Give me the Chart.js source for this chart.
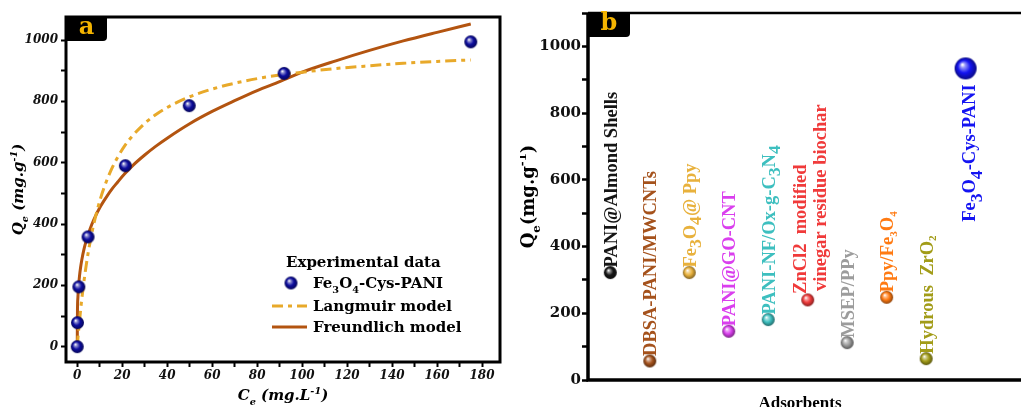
<!DOCTYPE html>
<html>
<head>
<meta charset="utf-8">
<script src="https://cdn.jsdelivr.net/npm/chart.js@4.4.1/dist/chart.umd.min.js"></script>
<style>
  html, body { margin: 0; padding: 0; background: #fff; overflow: hidden; width: 1021px; height: 407px; }
  #isotherm { position: absolute; left: 0; top: 0; }
  #compare { position: absolute; left: 520px; top: 0; }
</style>
</head>
<body>
<canvas id="isotherm" width="510" height="407"></canvas>
<canvas id="compare" width="520" height="420"></canvas>
<script>
// ---- panel a : isotherm data ----
const ceExp = [0, 0.1, 0.7, 4.8, 21.4, 49.8, 92.0, 175.0];
const qeExp = [0, 78, 195, 358, 590, 786, 891, 994];
const ceFit = [0, 0.1, 0.3, 0.6, 1, 1.5, 2, 3, 4, 5, 6.5, 8, 10, 12, 15, 18, 21, 25, 30, 35, 40, 50, 60, 70, 80, 90, 100, 115, 130, 145, 160, 175];
const qeLangmuir = [0, 9, 27, 52, 83, 120, 154, 214, 266, 312, 371, 420, 475, 520, 575, 618, 654, 691, 728, 757, 780, 815, 840, 859, 874, 886, 895, 907, 916, 924, 930, 935];
const qeFreundlich = [0, 117, 161, 198, 230, 259, 282, 318, 346, 369, 399, 424, 453, 477, 510, 537, 563, 593, 625, 654, 680, 727, 767, 802, 835, 864, 895, 932, 966, 997, 1025, 1052];
const ceTicks = [0, 20, 40, 60, 80, 100, 120, 140, 160, 180];
const qeTicksA = [0, 200, 400, 600, 800, 1000];

// ---- panel b : comparison with other adsorbents ----
// "_x" marks a subscript character
const adsorbents = ['PANI@Almond Shells', 'DBSA-PANI/MWCNTs', 'Fe_3O_4@ Ppy', 'PANI@GO-CNT', 'PANI-NF/Ox-g-C_3N_4',
  'ZnCl2  modified\nvinegar residue biochar', 'MSEP/PPy', 'Ppy/Fe_3O_4', 'Hydrous  ZrO_2', 'Fe_3O_4-Cys-PANI'];
const capacities = [322, 57, 322, 146, 181, 240, 112, 248, 64, 934];
const qeTicksB = [0, 200, 400, 600, 800, 1000];

const adsorbentColors = ['#151515', '#A5521C', '#E8B13C', '#DA3FEE', '#3DBFBF', '#F03A3A', '#9C9C9C', '#FF7A12', '#A29C18', '#1414F2'];

const SERIF = 'DejaVu Serif';
const TIMES = 'Liberation Serif';

function shade(hex, t) {
  const n = parseInt(hex.slice(1), 16);
  let r = n >> 16, g = (n >> 8) & 255, b = n & 255;
  const f = c => Math.round(t >= 0 ? c + (255 - c) * t : c * (1 + t));
  return `rgb(${f(r)},${f(g)},${f(b)})`;
}

function sphere(color, r) {
  const c = document.createElement('canvas');
  c.width = c.height = Math.ceil(2 * r + 2);
  const g = c.getContext('2d');
  const m = c.width / 2;
  const grad = g.createRadialGradient(m - r * 0.3, m - r * 0.35, r * 0.05, m, m, r);
  grad.addColorStop(0, '#ffffff');
  grad.addColorStop(0.18, shade(color, 0.55));
  grad.addColorStop(0.55, color);
  grad.addColorStop(1, shade(color, -0.45));
  g.fillStyle = grad;
  g.beginPath();
  g.arc(m, m, r, 0, Math.PI * 2);
  g.fill();
  return c;
}

function parseRich(str) {
  const parts = [];
  let buf = '';
  for (let i = 0; i < str.length; i++) {
    const c = str[i];
    if (c === '_' || c === '^') {
      if (buf) { parts.push({ t: buf, m: '' }); buf = ''; }
      let t;
      if (str[i + 1] === '{') { const j = str.indexOf('}', i); t = str.slice(i + 2, j); i = j; }
      else { t = str[i + 1]; i++; }
      parts.push({ t, m: c === '_' ? 'sub' : 'sup' });
    } else buf += c;
  }
  if (buf) parts.push({ t: buf, m: '' });
  return parts;
}

// draws text with sub/superscripts, y is the vertical centre of the capitals
function drawRich(ctx, str, x, y, o) {
  const parts = parseRich(str);
  const font = s => `${o.style || 'normal'} ${o.weight || 'bold'} ${s}px "${o.family}"`;
  let w = 0;
  parts.forEach(p => {
    p.size = p.m === 'sub' ? o.size * (o.subScale || 0.65) : p.m === 'sup' ? o.size * 0.65 : o.size;
    ctx.font = font(p.size);
    p.w = ctx.measureText(p.t).width;
    w += p.w;
  });
  let cx = o.align === 'center' ? x - w / 2 : o.align === 'right' ? x - w : x;
  const base = y + o.size * 0.35;
  ctx.textAlign = 'left';
  ctx.textBaseline = 'alphabetic';
  ctx.fillStyle = o.color || '#000';
  parts.forEach(p => {
    ctx.font = font(p.size);
    const dy = p.m === 'sub' ? o.size * (o.subShift || 0.25) : p.m === 'sup' ? -o.size * 0.45 : 0;
    ctx.fillText(p.t, cx, base + dy);
    cx += p.w;
  });
  return w;
}

function panelTag(ctx, x, y, w, h, letter) {
  ctx.save();
  ctx.fillStyle = '#000';
  ctx.beginPath();
  ctx.moveTo(x, y);
  ctx.lineTo(x + w, y);
  ctx.lineTo(x + w, y + h - 4);
  ctx.quadraticCurveTo(x + w, y + h, x + w - 4, y + h);
  ctx.lineTo(x, y + h);
  ctx.closePath();
  ctx.fill();
  ctx.fillStyle = '#F4B400';
  ctx.font = `bold 24px "${SERIF}"`;
  ctx.textAlign = 'center';
  ctx.textBaseline = 'middle';
  ctx.fillText(letter, x + w / 2, y + h / 2 - 1);
  ctx.restore();
}

// tick list with minor steps, labels only where the tick-label arrays say
function stepTicks(from, to, step) {
  return s => {
    s.ticks = [];
    for (let v = from; v <= to; v += step) s.ticks.push({ value: v });
  };
}

const blueBall = sphere('#0C0C9E', 6.5);

const isothermDecor = {
  id: 'isothermDecor',
  afterDatasetsDraw(chart) {
    const { ctx, chartArea: a } = chart;
    ctx.save();
    ctx.strokeStyle = '#000';
    ctx.lineWidth = 3;
    ctx.strokeRect(a.left, a.top, a.right - a.left, a.bottom - a.top);
    panelTag(ctx, a.left, a.top, 41, 24, 'a');

    // axis titles
    ctx.save();
    ctx.translate(18, (a.top + a.bottom) / 2);
    ctx.rotate(-Math.PI / 2);
    drawRich(ctx, 'Q_e (mg.g^{-1})', 0, 0, { family: SERIF, style: 'italic', size: 15, align: 'center', subShift: 0.3 });
    ctx.restore();
    drawRich(ctx, 'C_e (mg.L^{-1})', (a.left + a.right) / 2, 395, { family: SERIF, style: 'italic', size: 15, align: 'center', subShift: 0.3 });

    // legend
    const lx = a.left + 206, tx = a.left + 247;
    drawRich(ctx, 'Experimental data', a.left + 220, 262, { family: SERIF, size: 15 });
    ctx.drawImage(blueBall, a.left + 225 - blueBall.width / 2, 283 - blueBall.height / 2);
    drawRich(ctx, 'Fe_3O_4-Cys-PANI', tx, 283, { family: SERIF, size: 15, subShift: 0.3 });
    ctx.lineWidth = 3;
    ctx.strokeStyle = '#E8A92A';
    ctx.setLineDash([11, 5, 4, 5]);
    ctx.beginPath(); ctx.moveTo(lx, 306); ctx.lineTo(lx + 35, 306); ctx.stroke();
    ctx.setLineDash([]);
    drawRich(ctx, 'Langmuir model', tx, 306, { family: SERIF, size: 15 });
    ctx.strokeStyle = '#B35410';
    ctx.beginPath(); ctx.moveTo(lx, 327); ctx.lineTo(lx + 35, 327); ctx.stroke();
    drawRich(ctx, 'Freundlich model', tx, 327, { family: SERIF, size: 15 });
    ctx.restore();
  }
};

new Chart(document.getElementById('isotherm'), {
  type: 'scatter',
  data: {
    datasets: [
      {
        label: 'Fe3O4-Cys-PANI',
        data: ceExp.map((c, i) => ({ x: c, y: qeExp[i] })),
        pointStyle: blueBall,
        pointRadius: 6.5,
        showLine: false
      },
      {
        label: 'Langmuir model',
        data: ceFit.map((c, i) => ({ x: c, y: qeLangmuir[i] })),
        showLine: true,
        borderColor: '#E8A92A',
        borderWidth: 3,
        borderDash: [11, 5, 4, 5],
        pointRadius: 0,
        cubicInterpolationMode: 'monotone'
      },
      {
        label: 'Freundlich model',
        data: ceFit.map((c, i) => ({ x: c, y: qeFreundlich[i] })),
        showLine: true,
        borderColor: '#B35410',
        borderWidth: 3,
        pointRadius: 0,
        cubicInterpolationMode: 'monotone'
      }
    ]
  },
  options: {
    responsive: false,
    animation: false,
    devicePixelRatio: 1,
    layout: { padding: { left: 0, top: 17, right: 10, bottom: 0 } },
    plugins: { legend: { display: false }, tooltip: { enabled: false } },
    scales: {
      x: {
        type: 'linear', min: -5, max: 188,
        afterBuildTicks: stepTicks(0, 180, 10),
        afterFit: s => { s.height = 45; },
        ticks: {
          autoSkip: false, maxRotation: 0, padding: 2, color: '#111',
          font: { family: SERIF, style: 'italic', weight: 'bold', size: 12 },
          callback: v => ceTicks.includes(v) ? v : ''
        },
        grid: { drawOnChartArea: false, tickLength: 5, tickWidth: 2, color: '#000' },
        border: { display: false }
      },
      y: {
        type: 'linear', min: -50, max: 1075,
        afterBuildTicks: stepTicks(0, 1000, 100),
        afterFit: s => { s.width = 66; },
        ticks: {
          autoSkip: false, padding: 3, color: '#111',
          font: { family: SERIF, style: 'italic', weight: 'bold', size: 12 },
          callback: v => qeTicksA.includes(v) ? v : ''
        },
        grid: { drawOnChartArea: false, tickLength: 5, tickWidth: 2, color: '#000' },
        border: { display: false }
      }
    }
  },
  plugins: [isothermDecor]
});

// ---- panel b ----
const balls = adsorbents.map((n, i) => sphere(adsorbentColors[i], i === 9 ? 11 : 6.5));

const compareDecor = {
  id: 'compareDecor',
  afterDatasetsDraw(chart) {
    const { ctx, chartArea: a } = chart;
    ctx.save();
    ctx.strokeStyle = '#000';
    ctx.lineWidth = 2.5;
    ctx.beginPath(); ctx.moveTo(a.left, a.top); ctx.lineTo(a.right, a.top); ctx.stroke();
    ctx.lineWidth = 3.5;
    ctx.beginPath(); ctx.moveTo(a.left, a.top); ctx.lineTo(a.left, a.bottom); ctx.lineTo(a.right, a.bottom); ctx.stroke();
    panelTag(ctx, a.left, a.top, 42, 24, 'b');

    ctx.save();
    ctx.translate(8, (a.top + a.bottom) / 2);
    ctx.rotate(-Math.PI / 2);
    drawRich(ctx, 'Q_e(mg.g^{-1})', 0, 0, { family: SERIF, size: 18, align: 'center', subShift: 0.3 });
    ctx.restore();
    drawRich(ctx, 'Adsorbents', a.left + 212, 402, { family: TIMES, size: 17, align: 'center' });

    // rotated labels next to each point
    const meta = chart.getDatasetMeta(0);
    meta.data.forEach((el, i) => {
      const lines = adsorbents[i].split('\n');
      const color = adsorbentColors[i];
      ctx.save();
      ctx.translate(el.x, el.y);
      ctx.rotate(-Math.PI / 2);
      if (i === 9) {
        drawRich(ctx, lines[0], -16, 3, { family: TIMES, size: 18.5, color, align: 'right', subScale: 0.95, subShift: 0.35 });
      } else if (lines.length > 1) {
        drawRich(ctx, lines[0], 6, -8, { family: TIMES, size: 18.5, color });
        drawRich(ctx, lines[1], 9, 12, { family: TIMES, size: 18.5, color });
      } else {
        const big = i === 2 || i === 4;
        drawRich(ctx, lines[0], 5, 0, { family: TIMES, size: 18.5, color, subScale: big ? 0.95 : 0.6, subShift: big ? 0.3 : 0.2 });
      }
      ctx.restore();
    });
    ctx.restore();
  }
};

new Chart(document.getElementById('compare'), {
  type: 'scatter',
  data: {
    datasets: [{
      label: 'Qe',
      data: capacities.map((q, i) => ({ x: i + 1, y: q })),
      pointStyle: balls,
      pointRadius: balls.map(b => b.width / 2),
      showLine: false
    }]
  },
  options: {
    responsive: false,
    animation: false,
    devicePixelRatio: 1,
    layout: { padding: { left: 0, top: 11, right: 5, bottom: 0 } },
    plugins: { legend: { display: false }, tooltip: { enabled: false } },
    scales: {
      x: {
        type: 'linear', min: 0.435, max: 11.555,
        afterFit: s => { s.height = 40; },
        ticks: { display: false },
        grid: { display: false },
        border: { display: false }
      },
      y: {
        type: 'linear', min: 0, max: 1100,
        afterBuildTicks: stepTicks(0, 1100, 100),
        afterFit: s => { s.width = 68; },
        ticks: {
          autoSkip: false, padding: 1, color: '#111',
          font: { family: SERIF, weight: 'bold', size: 15 },
          callback: v => qeTicksB.includes(v) ? v : ''
        },
        grid: { drawOnChartArea: false, tickLength: 6, tickWidth: 2.5, color: '#000' },
        border: { display: false }
      }
    }
  },
  plugins: [compareDecor]
});
</script>
</body>
</html>
